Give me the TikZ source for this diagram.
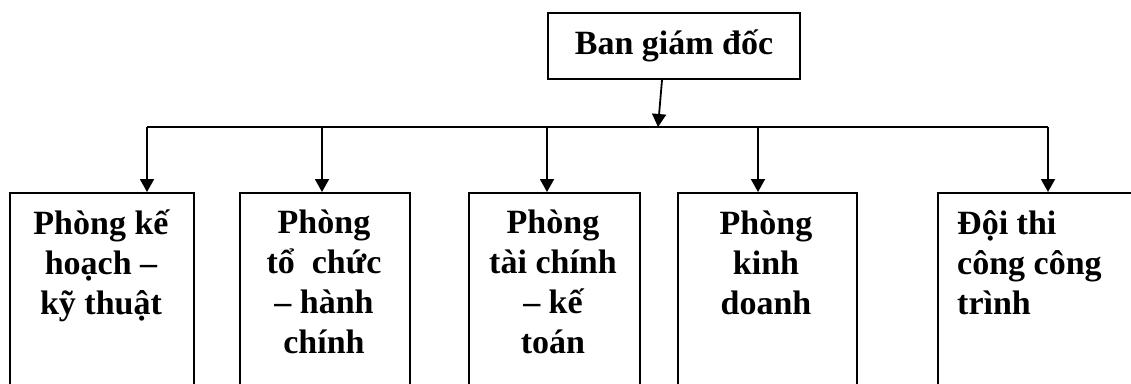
\documentclass[tikz,border=0pt]{standalone}
\usepackage{fontspec}
\setmainfont{Liberation Serif}
\usetikzlibrary{arrows.meta}
\begin{document}
\begin{tikzpicture}[x=1pt,y=-1pt,
  box/.style={draw, line width=2pt, rectangle, inner sep=0pt, anchor=north west},
  lbl/.style={font=\bfseries\fontsize{34}{40}\selectfont, inner sep=0pt},
  conn/.style={line width=1.8pt},
  arr/.style={conn, -{Triangle[length=13pt,width=14pt]}}]
\useasboundingbox (0,0) rectangle (1131,383);
\clip (0,0) rectangle (1131,383);
% top box
\node[box, lbl, minimum width=252pt, minimum height=66pt] (top) at (547,12) {Ban giám đốc};
% lower boxes (cut off by the bottom edge)
\node[box, minimum width=184pt, minimum height=300pt] (b1) at (9,192) {};
\node[box, minimum width=170pt, minimum height=300pt] (b2) at (239,192) {};
\node[box, minimum width=171pt, minimum height=300pt] (b3) at (468,192) {};
\node[box, minimum width=179pt, minimum height=300pt] (b4) at (677,192) {};
\node[box, minimum width=300pt, minimum height=300pt] (b5) at (937,192) {};
% texts (anchor base = baseline of the last line)
\node[lbl, align=center, anchor=base] (t1) at (101,314) {Phòng kế\\hoạch –\\kỹ thuật};
\node[lbl, align=center, anchor=base] (t2) at (324,353) {Phòng\\tổ\ \ chức\\– hành\\chính};
\node[lbl, align=center, anchor=base] (t3) at (553,353) {Phòng\\tài chính\\– kế\\toán};
\node[lbl, align=center, anchor=base] (t4) at (766,314) {Phòng\\kinh\\doanh};
\node[lbl, align=left, anchor=base west] (t5) at (957,314) {Đội thi\\công công\\trình};
% connectors
\coordinate (j) at (658,127);
\coordinate (L) at (147,127);
\coordinate (d2) at (322,127);
\coordinate (d3) at (547,127);
\coordinate (d4) at (758,127);
\coordinate (R) at (1048,127);
\draw[arr] ([xshift=-12pt]top.south) -- (j);
\draw[conn] (L) -- (R);
\draw[arr] (L) -- (L |- b1.north);
\draw[arr] (d2) -- (d2 |- b2.north);
\draw[arr] (d3) -- (d3 |- b3.north);
\draw[arr] (d4) -- (d4 |- b4.north);
\draw[arr] (R) -- (R |- b5.north);
\end{tikzpicture}
\end{document}
